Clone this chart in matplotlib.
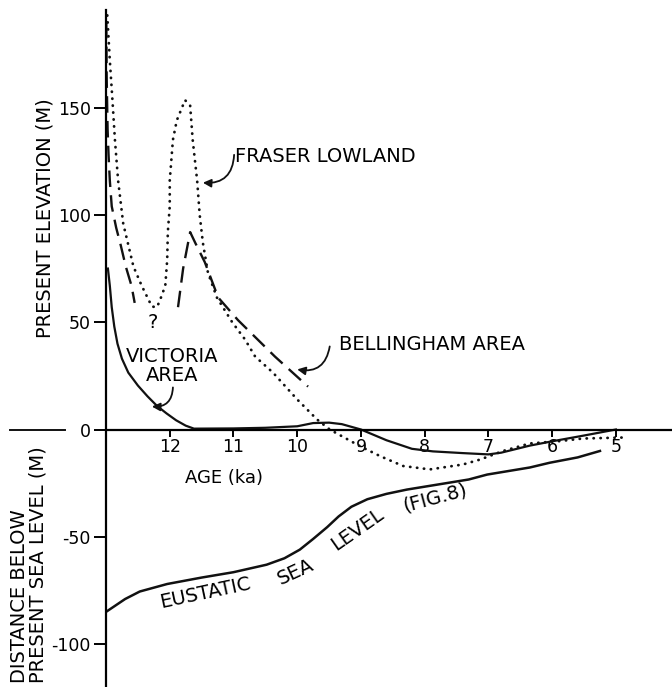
import numpy as np
import matplotlib
matplotlib.use("Agg")
import matplotlib.pyplot as plt

plt.rcParams["font.family"] = "DejaVu Sans"
plt.rcParams["axes.unicode_minus"] = False

# Fraser Lowland (dotted)
fraser_age = [12.98, 12.94, 12.90, 12.86, 12.81, 12.73, 12.67, 12.57, 12.44, 12.28,
              12.20, 12.15, 12.07, 12.04, 12.03, 12.00, 12.00, 11.95, 11.89, 11.76,
              11.68, 11.64, 11.57, 11.53, 11.48, 11.40, 11.26, 11.02, 10.82, 10.66,
              10.38, 10.00, 9.69, 9.49, 9.02, 8.70, 8.34, 7.92, 7.40, 7.13,
              6.77, 6.35, 5.88, 5.52, 4.83]
fraser_elev = [193, 172, 154, 135, 116, 96, 88.5, 76, 67, 57.3,
               57, 60.5, 67, 79, 92, 104, 116, 135, 144, 153.5,
               151, 135, 116, 100, 87, 73, 61.5, 50, 42, 34,
               26.5, 14, 4.7, 0, -7.7, -12.4, -17, -18.6, -16.3, -14,
               -10, -6.5, -5.4, -4.2, -3.7]

# Bellingham area (dashed), nan = gap in the record
belling_age = [12.995, 12.99, 12.975, 12.96, 12.94, 12.91, 12.84, 12.77, 12.69, 12.60, 12.55,
               np.nan, 11.87, 11.79, 11.68, 11.60, 11.45, 11.24, 10.93, 10.35, 9.83]
belling_elev = [190, 165, 140, 128, 116, 104, 94, 86, 76, 67, 59,
                np.nan, 57, 75, 92, 87, 78, 61.5, 51, 34, 20]

# Victoria area (solid)
victoria_age = [12.97, 12.94, 12.91, 12.87, 12.82, 12.75, 12.65, 12.50, 12.35, 12.20,
                12.05, 11.90, 11.75, 11.62, 11.00, 10.50, 10.00, 9.75, 9.50, 9.30,
                9.00, 8.60, 8.20, 7.87, 7.40, 7.00, 6.80, 6.35, 6.00, 5.50, 5.00]
victoria_elev = [75, 67, 57, 48, 40, 33, 26.5, 20.5, 15.5, 11,
                 7.5, 4.3, 1.8, 0.4, 0.5, 0.8, 1.5, 3, 3.2, 2.5,
                 0, -5, -9, -10.2, -11, -11.6, -10.8, -7.5, -5.5, -2.8, 0]

# eustatic sea level (fig. 8)
eustatic_age = [13.0, 12.70, 12.47, 12.04, 11.50, 11.00, 10.48, 10.20, 9.96, 9.75,
                9.53, 9.35, 9.15, 8.90, 8.60, 8.28, 7.31, 7.02, 6.35, 6.04, 5.60, 5.25]
eustatic_elev = [-85, -79, -75.5, -72, -69, -66.5, -63, -60, -56, -51,
                 -45.5, -40.5, -36, -32.5, -30, -28, -23.3, -21, -17.7, -15.5, -13, -10]

xticks = [12, 11, 10, 9, 8, 7, 6, 5]
yticks = [-100, -50, 0, 50, 100, 150]

fig = plt.figure(figsize=(6.72, 6.87), dpi=100)
ax = fig.add_axes([106 / 672, 0, 566 / 672, 677 / 687])
ax.set_xlim(13, 4.12)
ax.set_ylim(-120, 195.5)

for s in ["top", "right"]:
    ax.spines[s].set_visible(False)
ax.spines["bottom"].set_position(("data", 0))
ax.spines["left"].set_linewidth(1.6)
ax.spines["bottom"].set_linewidth(1.6)

ax.set_xticks(xticks)
ax.set_xticklabels([str(t) for t in xticks])
ax.set_yticks(yticks)
ax.tick_params(axis="x", direction="out", length=5, width=1.4, pad=1, labelsize=12.5)
ax.tick_params(axis="y", direction="out", length=9, width=1.4, pad=2, labelsize=12.5)

ink = "#111111"
ax.plot(fraser_age, fraser_elev, color=ink, lw=2.0, linestyle=(0, (0.1, 2.4)),
        dash_capstyle="round")
ax.plot(belling_age, belling_elev, color=ink, lw=1.7, linestyle=(0, (7, 3.5)))
ax.plot(victoria_age, victoria_elev, color=ink, lw=1.6)
ax.plot(eustatic_age, eustatic_elev, color=ink, lw=1.8)

# short rule to the left of the axis at sea level
ax.axhline(0, xmin=-0.17, xmax=-0.073, color=ink, lw=1.4, clip_on=False)

fs = 14
ax.text(10.97, 127, "FRASER LOWLAND", fontsize=fs, ha="left", va="center")
ax.text(9.35, 39.6, "BELLINGHAM AREA", fontsize=fs, ha="left", va="center")
ax.text(11.96, 29.5, "VICTORIA\nAREA", fontsize=fs, ha="center", va="center",
        linespacing=1.0)
ax.text(12.26, 50, "?", fontsize=fs, ha="center", va="center")
ax.text(11.15, -22.4, "AGE (ka)", fontsize=fs - 1, ha="center", va="center")
ax.text(11.45, -76.4, "EUSTATIC", fontsize=fs, ha="center", va="center", rotation=12)
ax.text(10.02, -66.6, "SEA", fontsize=fs, ha="center", va="center", rotation=25)
ax.text(9.06, -46.6, "LEVEL", fontsize=fs, ha="center", va="center", rotation=35)
ax.text(7.84, -31.7, "(FIG.8)", fontsize=fs, ha="center", va="center", rotation=15)

arrow = dict(arrowstyle="-|>", color=ink, lw=1.3, mutation_scale=12,
             connectionstyle="arc3,rad=-0.5", shrinkA=0, shrinkB=0)
ax.annotate("", xy=(11.48, 115), xytext=(10.99, 128), arrowprops=arrow)
ax.annotate("", xy=(10.0, 28), xytext=(9.49, 38.7), arrowprops=arrow)
ax.annotate("", xy=(12.28, 10.7), xytext=(11.95, 19.6), arrowprops=arrow)

fig.text(45 / 672, 1 - 218 / 687, "PRESENT ELEVATION (M)", rotation=90,
         ha="center", va="center", fontsize=fs)
fig.text(20 / 672, 1 - 683 / 687, "DISTANCE BELOW", rotation=90,
         ha="center", va="bottom", fontsize=fs)
fig.text(38 / 672, 1 - 683 / 687, "PRESENT SEA LEVEL (M)", rotation=90,
         ha="center", va="bottom", fontsize=fs)

fig.savefig("out.png", dpi=100)
